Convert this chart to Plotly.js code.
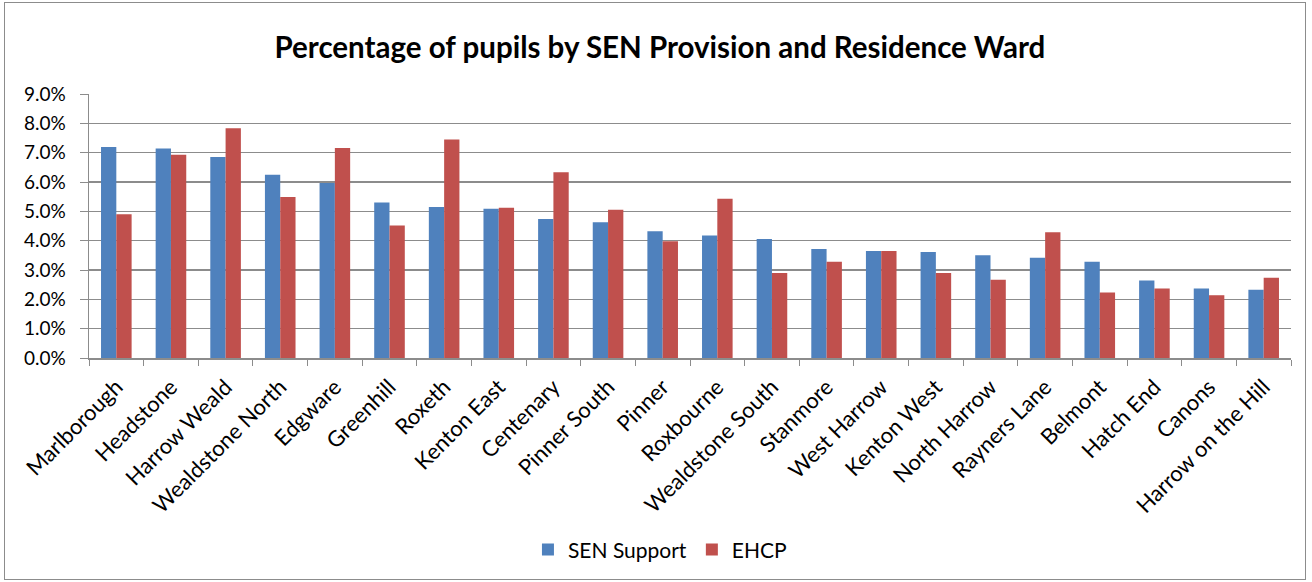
<!DOCTYPE html>
<html>
<head>
<meta charset="utf-8">
<script src="https://cdn.plot.ly/plotly-3.0.1.min.js"></script>
<style>
  html, body { margin: 0; padding: 0; background: #fff; }
  #frame { position: absolute; left: 4px; top: 2px; width: 1302px; height: 578px; border: 1px solid #8c8c8c; box-sizing: border-box; }
  #chart { position: absolute; left: 0; top: 0; width: 1312px; height: 582px; }
</style>
</head>
<body>
<div id="frame"></div>
<div id="chart"></div>
<script>
const wards = ["Marlborough", "Headstone", "Harrow Weald", "Wealdstone North", "Edgware", "Greenhill", "Roxeth", "Kenton East", "Centenary", "Pinner South", "Pinner", "Roxbourne", "Wealdstone South", "Stanmore", "West Harrow", "Kenton West", "North Harrow", "Rayners Lane", "Belmont", "Hatch End", "Canons", "Harrow on the Hill"];
const senSupport = [7.19, 7.14, 6.85, 6.25, 5.97, 5.30, 5.15, 5.09, 4.74, 4.63, 4.32, 4.18, 4.06, 3.72, 3.65, 3.61, 3.50, 3.42, 3.28, 2.64, 2.37, 2.33];
const ehcp = [4.90, 6.93, 7.83, 5.49, 7.16, 4.52, 7.45, 5.12, 6.33, 5.05, 3.98, 5.43, 2.90, 3.28, 3.65, 2.90, 2.67, 4.29, 2.23, 2.37, 2.14, 2.74];
const yTicks = [0, 1, 2, 3, 4, 5, 6, 7, 8, 9];

const font = "Lato, 'Open Sans', sans-serif";

const traces = [
  { type: "bar", name: "SEN Support", x: wards, y: senSupport, marker: { color: "#4F81BD" } },
  { type: "bar", name: "EHCP", x: wards, y: ehcp, marker: { color: "#C0504D" } }
];

const layout = {
  width: 1312, height: 582,
  paper_bgcolor: "rgba(0,0,0,0)", plot_bgcolor: "#fff",
  margin: { l: 89, r: 21, t: 94, b: 224 },
  font: { family: font, color: "#000", size: 19 },
  title: { text: "<b>Percentage of pupils by SEN Provision and Residence Ward</b>", x: 0.503, xanchor: "center", y: 0.918, yanchor: "middle", font: { size: 29.5, family: font, color: "#000" } },
  barmode: "group", bargap: 0.44, bargroupgap: 0,
  xaxis: {
    type: "category", tickangle: -45, tickson: "boundaries", ticks: "outside", ticklen: 6, tickcolor: "#8c8c8c",
    showline: true, linecolor: "#8c8c8c", linewidth: 1.5, showgrid: false,
    ticklabelstandoff: 6,
    tickfont: { size: 22, family: font, color: "#000" }
  },
  yaxis: {
    range: [0, 9], tickvals: yTicks, ticktext: yTicks.map(v => v.toFixed(1) + "%"),
    ticks: "outside", ticklen: 8, tickcolor: "#8c8c8c",
    showline: true, linecolor: "#8c8c8c", linewidth: 1.5,
    showgrid: true, gridcolor: "#8c8c8c", gridwidth: 1.5, zeroline: false,
    ticklabelstandoff: 10,
    tickfont: { size: 19, family: font, color: "#000" }
  },
  legend: { orientation: "h", x: 0.475, xanchor: "center", y: -0.727, yanchor: "middle", font: { size: 21, family: font, color: "#000" }, itemwidth: 30 },
  showlegend: true
};

Plotly.newPlot("chart", traces, layout, { displayModeBar: false, staticPlot: true });
</script>
</body>
</html>
